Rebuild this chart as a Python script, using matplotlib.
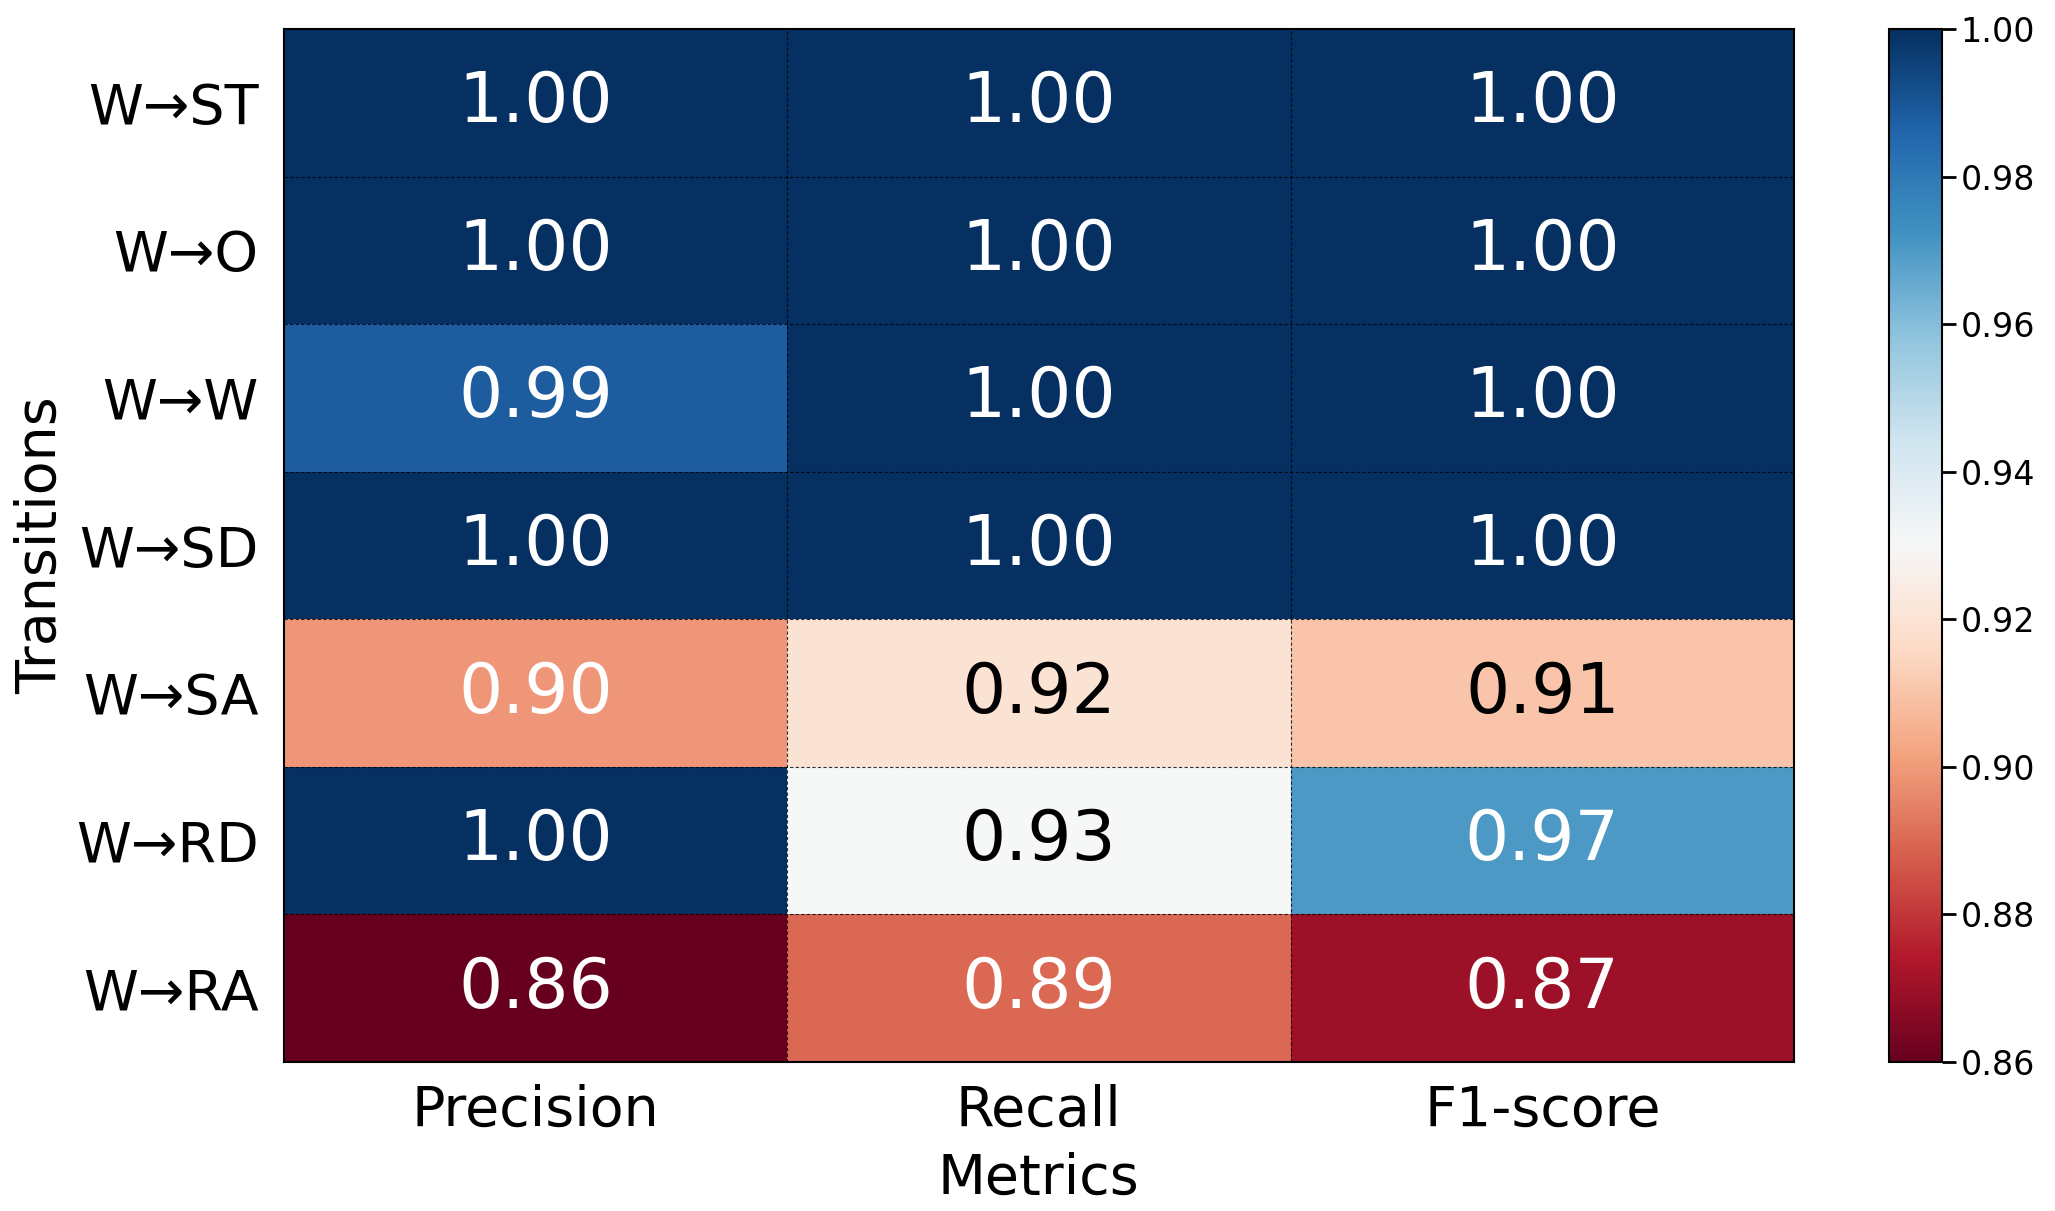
import numpy as np
import matplotlib
matplotlib.use("Agg")
import matplotlib.pyplot as plt
from matplotlib.colors import Normalize

transitions = ["W→ST", "W→O", "W→W", "W→SD", "W→SA", "W→RD", "W→RA"]
metrics = ["Precision", "Recall", "F1-score"]
precision = [1.00, 1.00, 0.988, 1.00, 0.899, 1.00, 0.86]
recall = [1.00, 1.00, 1.00, 1.00, 0.92, 0.93, 0.89]
f1_score = [1.00, 1.00, 1.00, 1.00, 0.91, 0.97, 0.87]
cbar_ticks = [0.86, 0.88, 0.90, 0.92, 0.94, 0.96, 0.98, 1.00]

values = np.column_stack([precision, recall, f1_score])
n_rows, n_cols = values.shape

cmap = plt.get_cmap("RdBu")
norm = Normalize(vmin=0.86, vmax=1.00)

fig = plt.figure(figsize=(20.55, 12.11), dpi=100)
ax = fig.add_axes([0.138, 0.123, 0.735, 0.853])
cax = fig.add_axes([0.919, 0.123, 0.026, 0.853])

mesh = ax.pcolormesh(values, cmap=cmap, norm=norm)
ax.set_xlim(0, n_cols)
ax.set_ylim(n_rows, 0)

# dashed cell borders
for r in range(1, n_rows):
    ax.axhline(r, color="black", lw=0.8, ls=(0, (3, 2)), alpha=0.8)
for c in range(1, n_cols):
    ax.axvline(c, color="black", lw=0.8, ls=(0, (3, 2)), alpha=0.8)

for r in range(n_rows):
    for c in range(n_cols):
        v = values[r, c]
        txt_color = "white" if abs(norm(v) - 0.5) > 0.2 else "black"
        ax.text(c + 0.5, r + 0.5, f"{v:.2f}", ha="center", va="center",
                fontsize=50, color=txt_color)

ax.set_xticks(np.arange(n_cols) + 0.5)
ax.set_xticklabels(metrics, fontsize=40)
ax.set_yticks(np.arange(n_rows) + 0.5)
ax.set_yticklabels(transitions, fontsize=40)
ax.tick_params(axis="y", length=0, pad=18)
ax.tick_params(axis="x", length=0, pad=16)
ax.set_xlabel("Metrics", fontsize=40, labelpad=10)
ax.set_ylabel("Transitions", fontsize=40, labelpad=6)
for s in ax.spines.values():
    s.set_linewidth(1.5)
    s.set_color("black")

cb = fig.colorbar(mesh, cax=cax, ticks=cbar_ticks)
cb.ax.tick_params(labelsize=24, length=10, width=2, direction="out")
cb.ax.set_yticklabels([f"{t:.2f}" for t in cbar_ticks])
cb.outline.set_linewidth(1.5)

fig.savefig("out.png", dpi=100)
